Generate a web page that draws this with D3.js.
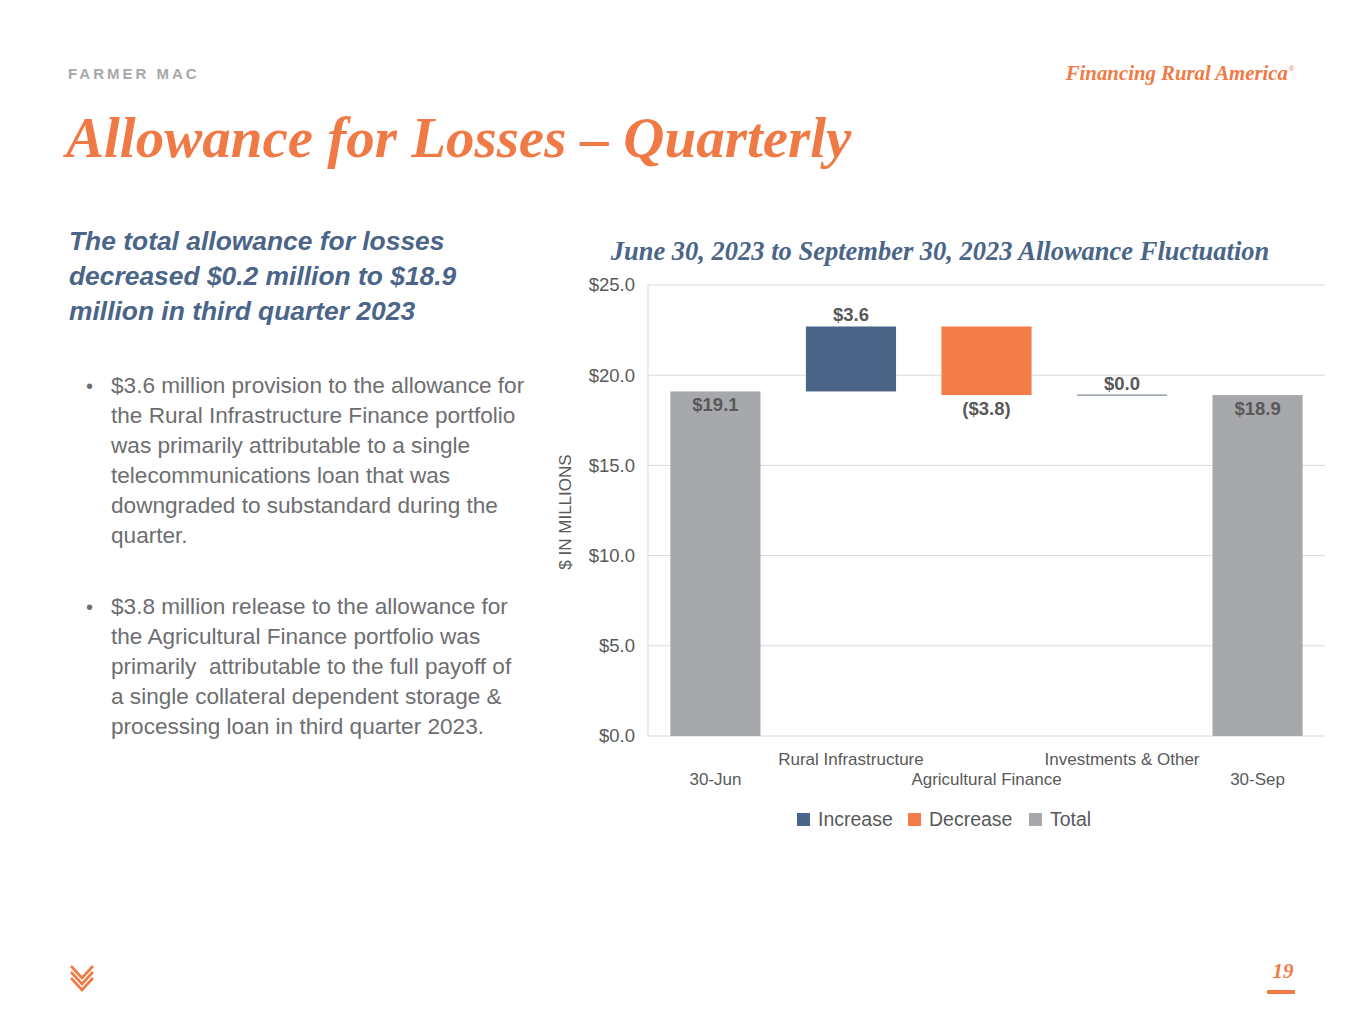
<!DOCTYPE html>
<html>
<head>
<meta charset="utf-8">
<script src="https://cdn.jsdelivr.net/npm/d3@7"></script>
<style>
  body { margin: 0; background: #fff; }
  svg { display: block; }
</style>
</head>
<body>
<script>
// waterfall data, $ millions
var categories = ["30-Jun", "Rural Infrastructure", "Agricultural Finance", "Investments & Other", "30-Sep"];
var changes = [19.1, 3.6, -3.8, 0.0, 18.9];
var kinds = ["Total", "Increase", "Decrease", "Increase", "Total"];
var valueLabels = ["$19.1", "$3.6", "($3.8)", "$0.0", "$18.9"];
var yTicks = [0, 5, 10, 15, 20, 25];
var legendItems = ["Increase", "Decrease", "Total"];

var colors = { Increase: "#4a6587", Decrease: "#f47c48", Total: "#a7a8ab" };
var orange = "#f07a45", blue = "#4a6587", grey = "#6d6e71";

var width = 1365, height = 1024;
var svg = d3.select("body").append("svg")
    .attr("width", width)
    .attr("height", height);

// header
svg.append("text")
    .attr("x", 68).attr("y", 79)
    .attr("font-family", "Liberation Sans, Arial, sans-serif")
    .attr("font-size", 15).attr("font-weight", "bold")
    .attr("letter-spacing", 3)
    .attr("fill", "#a7a8ab")
    .text("FARMER MAC");

svg.append("text")
    .attr("x", 1288).attr("y", 80)
    .attr("text-anchor", "end")
    .attr("font-family", "Liberation Serif, Times New Roman, serif")
    .attr("font-size", 20.8).attr("font-weight", "bold").attr("font-style", "italic")
    .attr("fill", orange)
    .text("Financing Rural America");
svg.append("text")
    .attr("x", 1289).attr("y", 71)
    .attr("font-family", "Liberation Sans, Arial, sans-serif")
    .attr("font-size", 7).attr("fill", orange)
    .text("®");

svg.append("text")
    .attr("x", 66).attr("y", 157)
    .attr("font-family", "Liberation Serif, Times New Roman, serif")
    .attr("font-size", 57).attr("font-weight", "bold").attr("font-style", "italic")
    .attr("fill", orange)
    .text("Allowance for Losses – Quarterly");

// left text column
var headLines = ["The total allowance for losses", "decreased $0.2 million to $18.9", "million in third quarter 2023"];
svg.append("g").selectAll("text")
    .data(headLines)
    .enter().append("text")
    .attr("x", 69)
    .attr("y", function(d, i) { return 250 + i * 35; })
    .attr("font-family", "Liberation Sans, Arial, sans-serif")
    .attr("font-size", 26.4).attr("font-weight", "bold").attr("font-style", "italic")
    .attr("fill", blue)
    .text(function(d) { return d; });

var bullets = [
  ["$3.6 million provision to the allowance for", "the Rural Infrastructure Finance portfolio", "was primarily attributable to a single", "telecommunications loan that was", "downgraded to substandard during the", "quarter."],
  ["$3.8 million release to the allowance for", "the Agricultural Finance portfolio was", "primarily  attributable to the full payoff of", "a single collateral dependent storage &", "processing loan in third quarter 2023."]
];
var bulletTop = [393, 614];
bullets.forEach(function(lines, b) {
  svg.append("text")
      .attr("x", 86).attr("y", bulletTop[b])
      .attr("font-family", "Liberation Sans, Arial, sans-serif")
      .attr("font-size", 20).attr("fill", grey)
      .text("•");
  svg.append("g").selectAll("text")
      .data(lines)
      .enter().append("text")
      .attr("x", 111)
      .attr("y", function(d, i) { return bulletTop[b] + i * 30; })
      .attr("font-family", "Liberation Sans, Arial, sans-serif")
      .attr("font-size", 22.6).attr("fill", grey)
      .attr("xml:space", "preserve")
      .text(function(d) { return d; });
});

// chart title
svg.append("text")
    .attr("x", 940).attr("y", 260)
    .attr("text-anchor", "middle")
    .attr("font-family", "Liberation Serif, Times New Roman, serif")
    .attr("font-size", 26.5).attr("font-weight", "bold").attr("font-style", "italic")
    .attr("fill", blue)
    .text("June 30, 2023 to September 30, 2023 Allowance Fluctuation");

// waterfall
var plotLeft = 648, plotRight = 1325, plotTop = 285, plotBottom = 736;
var x = d3.scaleBand().domain(categories).range([plotLeft, plotRight]).paddingInner(0.335).paddingOuter(0.165);
var y = d3.scaleLinear().domain([0, 25]).range([plotBottom, plotTop]);

// compute start/end of each step
var running = 0;
var steps = categories.map(function(c, i) {
  var s, e;
  if (kinds[i] === "Total") { s = 0; e = changes[i]; running = e; }
  else { s = running; e = running + changes[i]; running = e; }
  return { cat: c, start: s, end: e, kind: kinds[i], label: valueLabels[i], val: changes[i] };
});

var chart = svg.append("g");
chart.selectAll("line.grid")
    .data(yTicks)
    .enter().append("line")
    .attr("class", "grid")
    .attr("x1", plotLeft).attr("x2", plotRight)
    .attr("y1", function(d) { return y(d); })
    .attr("y2", function(d) { return y(d); })
    .attr("stroke", "#d9d9d9").attr("stroke-width", 1);
chart.append("line")
    .attr("x1", plotLeft).attr("x2", plotLeft)
    .attr("y1", plotTop).attr("y2", plotBottom)
    .attr("stroke", "#d9d9d9");

var yAxis = chart.append("g")
    .attr("transform", "translate(" + plotLeft + ",0)")
    .call(d3.axisLeft(y).tickValues(yTicks).tickSize(0).tickPadding(13)
      .tickFormat(function(d) { return "$" + d3.format(".1f")(d); }));
yAxis.select(".domain").remove();
yAxis.selectAll("text")
    .attr("font-family", "Liberation Sans, Arial, sans-serif")
    .attr("font-size", 18.5).attr("fill", "#595959");

svg.append("text")
    .attr("transform", "translate(571,512) rotate(-90)")
    .attr("text-anchor", "middle")
    .attr("font-family", "Liberation Sans, Arial, sans-serif")
    .attr("font-size", 17).attr("fill", "#595959")
    .text("$ IN MILLIONS");

chart.selectAll("rect.bar")
    .data(steps)
    .enter().append("rect")
    .attr("class", "bar")
    .attr("x", function(d) { return x(d.cat); })
    .attr("width", x.bandwidth())
    .attr("y", function(d) { return y(Math.max(d.start, d.end)); })
    .attr("height", function(d) { return Math.abs(y(d.start) - y(d.end)); })
    .attr("fill", function(d) { return colors[d.kind]; });

// zero-change step shown as a thin line
chart.selectAll("line.zero")
    .data(steps.filter(function(d) { return d.kind !== "Total" && d.val === 0; }))
    .enter().append("line")
    .attr("x1", function(d) { return x(d.cat); })
    .attr("x2", function(d) { return x(d.cat) + x.bandwidth(); })
    .attr("y1", function(d) { return y(d.end); })
    .attr("y2", function(d) { return y(d.end); })
    .attr("stroke", "#7f8a99").attr("stroke-width", 1.2);

chart.selectAll("text.val")
    .data(steps)
    .enter().append("text")
    .attr("class", "val")
    .attr("x", function(d) { return x(d.cat) + x.bandwidth() / 2; })
    .attr("y", function(d) {
      if (d.kind === "Total") return y(d.end) + 20;
      if (d.val < 0) return y(d.end) + 20;
      return y(d.end) - 5;
    })
    .attr("text-anchor", "middle")
    .attr("font-family", "Liberation Sans, Arial, sans-serif")
    .attr("font-size", 18.5).attr("font-weight", "bold")
    .attr("fill", "#595959")
    .text(function(d) { return d.label; });

// staggered category labels
chart.selectAll("text.cat")
    .data(categories)
    .enter().append("text")
    .attr("class", "cat")
    .attr("x", function(d) { return x(d) + x.bandwidth() / 2; })
    .attr("y", function(d, i) { return i % 2 === 1 ? 765 : 785; })
    .attr("text-anchor", "middle")
    .attr("font-family", "Liberation Sans, Arial, sans-serif")
    .attr("font-size", 17).attr("fill", "#595959")
    .text(function(d) { return d; });

// legend
var legendX = [797, 908, 1029];
var lg = svg.append("g").selectAll("g")
    .data(legendItems)
    .enter().append("g")
    .attr("transform", function(d, i) { return "translate(" + legendX[i] + ",813)"; });
lg.append("rect").attr("width", 13).attr("height", 13)
    .attr("fill", function(d) { return colors[d]; });
lg.append("text").attr("x", 21).attr("y", 13)
    .attr("font-family", "Liberation Sans, Arial, sans-serif")
    .attr("font-size", 19.5).attr("fill", "#595959")
    .text(function(d) { return d; });

// footer logo: stacked chevrons
var logo = svg.append("g").attr("transform", "translate(69,966)");
[0, 6, 12].forEach(function(off) {
  logo.append("path")
      .attr("d", "M2," + off + " L13," + (off + 12) + " L24," + off)
      .attr("fill", "none").attr("stroke", orange).attr("stroke-width", 2.6);
});

svg.append("text")
    .attr("x", 1283).attr("y", 978)
    .attr("text-anchor", "middle")
    .attr("font-family", "Liberation Serif, Times New Roman, serif")
    .attr("font-size", 21).attr("font-weight", "bold").attr("font-style", "italic")
    .attr("fill", orange)
    .text("19");
svg.append("rect")
    .attr("x", 1267).attr("y", 990).attr("width", 28).attr("height", 4)
    .attr("fill", orange);
</script>
</body>
</html>
